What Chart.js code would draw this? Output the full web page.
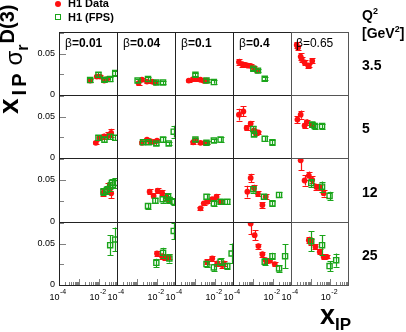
<!DOCTYPE html>
<html><head><meta charset="utf-8">
<script src="https://cdn.jsdelivr.net/npm/chart.js@4/dist/chart.umd.min.js"></script>
<style>
html,body{margin:0;padding:0;background:#fff;}
#wrap{position:relative;width:406px;height:332px;overflow:hidden;background:#fff;font-family:'Liberation Sans',Arial,Helvetica,sans-serif;color:#000;}
canvas{position:absolute;left:0;top:0;}
.t{position:absolute;white-space:nowrap;line-height:1;}
.b{font-weight:bold;}
</style></head><body>
<div id="wrap"></div>
<script>
// ---------------- data ----------------
const qsqLabels = ['3.5', '5', '12', '25'];
const betaLabels = ['0.01', '0.04', '0.1', '0.4', '0.65'];
const xTickExponents = [-4, -2];
const yTickLabels = [0, 0.05];
const seriesNames = ['H1 Data', 'H1 (FPS)'];

// h1Data[row=Q2][col=beta] -> [x_IP, value, error]
const h1Data = [
 [
  [[0.0036,0.0174,0.002],[0.0078,0.0222,0.002],[0.0114,0.0222,0.002],[0.0181,0.0174,0.002],[0.0256,0.0192,0.002]],
  [[0.0012,0.0144,0.002],[0.00177,0.0184,0.002],[0.00316,0.0162,0.002],[0.00564,0.0162,0.002],[0.00826,0.015,0.002]],
  [[0.000486,0.0174,0.002],[0.00081,0.0192,0.002],[0.00119,0.0192,0.002],[0.00188,0.0184,0.002],[0.00275,0.0172,0.002],[0.00376,0.0172,0.002]],
  [[0.000198,0.0397,0.004],[0.000293,0.0372,0.003],[0.000429,0.0364,0.002],[0.00056,0.0354,0.002],[0.000764,0.0352,0.002],[0.00112,0.0324,0.002],[0.00166,0.0294,0.002]],
  [[0.000195,0.0604,0.004],[0.000227,0.0572,0.003],[0.00031,0.0464,0.004],[0.000348,0.0433,0.003],[0.000492,0.0392,0.003],[0.000755,0.0352,0.003],[0.000809,0.0356,0.002],[0.0012,0.0412,0.003]]
 ],
 [
  [[0.00693,0.0183,0.002],[0.0105,0.0243,0.003],[0.0181,0.0262,0.003],[0.0297,0.027,0.004],[0.0406,0.0303,0.005]],
  [[0.00177,0.0183,0.002],[0.00316,0.0222,0.002],[0.00463,0.0202,0.002],[0.00678,0.0195,0.002],[0.01,0.021,0.002]],
  [[0.00081,0.019,0.002],[0.00105,0.0214,0.002],[0.00188,0.0183,0.002],[0.00309,0.0183,0.002],[0.00408,0.0183,0.002]],
  [[0.000198,0.0523,0.0072],[0.000329,0.0562,0.006],[0.000481,0.0363,0.003],[0.000764,0.0415,0.003],[0.00112,0.0334,0.002],[0.00136,0.0303,0.002],[0.00186,0.031,0.002]],
  [[0.000212,0.0463,0.004],[0.00031,0.0523,0.005],[0.000492,0.039,0.003],[0.000635,0.0433,0.003],[0.0012,0.0403,0.003]]
 ],
 [
  [[0.0167,0.0348,0.004],[0.0297,0.0403,0.006],[0.0406,0.0342,0.006]],
  [[0.00427,0.036,0.003],[0.00678,0.031,0.003],[0.0108,0.0372,0.003],[0.0179,0.0348,0.003],[0.0294,0.03,0.004],[0.0384,0.0262,0.004]],
  [[0.00188,0.0162,0.002],[0.00275,0.0222,0.002],[0.00408,0.024,0.002],[0.00726,0.027,0.002],[0.0119,0.03,0.003],[0.019,0.024,0.002]],
  [[0.000764,0.0523,0.005],[0.000521,0.036,0.007],[0.00112,0.0403,0.004],[0.00177,0.0334,0.003],[0.00295,0.0202,0.003],[0.00432,0.03,0.003]],
  [[0.00031,0.0733,0.012],[0.000492,0.0493,0.006],[0.000809,0.0549,0.005],[0.0012,0.0501,0.004],[0.00197,0.0415,0.004],[0.00288,0.0415,0.003],[0.00458,0.0342,0.004]]
 ],
 [
  [],
  [[0.01,0.0381,0.003],[0.0179,0.0348,0.003],[0.0262,0.0333,0.003],[0.0384,0.034,0.003]],
  [[0.00408,0.028,0.003],[0.00726,0.032,0.003],[0.0129,0.026,0.003],[0.0231,0.024,0.003],[0.0277,0.026,0.003]],
  [[0.000764,0.0741,0.013],[0.00121,0.0601,0.006],[0.00186,0.0469,0.003],[0.00295,0.0372,0.003],[0.00432,0.03,0.003],[0.0071,0.0292,0.002],[0.0122,0.0252,0.002]],
  [[0.000809,0.0541,0.004],[0.000984,0.052,0.004],[0.00175,0.046,0.003],[0.00288,0.04,0.003],[0.00458,0.034,0.003],[0.00678,0.034,0.002]]
 ]
];

const h1Fps = [
 [
  [[0.0036,0.018,0.002],[0.0094,0.0244,0.003],[0.0187,0.0184,0.002],[0.0362,0.0192,0.002],[0.0646,0.0264,0.003]],
  [[0.00107,0.0174,0.002],[0.00355,0.0192,0.002],[0.00927,0.015,0.002],[0.0201,0.015,0.002]],
  [[0.00105,0.0244,0.002],[0.00376,0.0174,0.002],[0.00875,0.0156,0.002]],
  [[0.00104,0.0318,0.002],[0.00177,0.0294,0.002],[0.00385,0.0196,0.002]],
  []
 ],
 [
  [[0.0094,0.0243,0.003],[0.0187,0.0222,0.003],[0.0362,0.0255,0.003],[0.0646,0.0243,0.003]],
  [[0.00199,0.019,0.002],[0.0038,0.019,0.002],[0.00927,0.0174,0.002],[0.0201,0.0222,0.003],[0.0384,0.0174,0.002],[0.0684,0.0318,0.0072]],
  [[0.00105,0.0222,0.002],[0.00376,0.0183,0.002],[0.00875,0.021,0.002],[0.019,0.0222,0.003]],
  [[0.00104,0.0351,0.003],[0.00112,0.0282,0.002],[0.00385,0.0231,0.003],[0.00938,0.019,0.003]],
  [[0.0012,0.0403,0.003],[0.0016,0.0385,0.003],[0.0038,0.0385,0.003]]
 ],
 [
  [[0.0167,0.036,0.004],[0.0247,0.038,0.005],[0.0362,0.042,0.005],[0.044,0.0463,0.005],[0.0646,0.0463,0.006]],
  [[0.00355,0.019,0.003],[0.00826,0.0252,0.003],[0.0192,0.027,0.004],[0.0358,0.03,0.004],[0.0416,0.0262,0.004],[0.0684,0.024,0.004]],
  [[0.00376,0.03,0.003],[0.00875,0.0222,0.003],[0.019,0.024,0.003],[0.0411,0.024,0.003]],
  [[0.00104,0.039,0.004],[0.00355,0.03,0.003],[0.00938,0.0222,0.003],[0.0201,0.0322,0.003]],
  [[0.00107,0.0463,0.005],[0.0038,0.042,0.006],[0.00916,0.031,0.005]]
 ],
 [
  [[0.0362,0.048,0.012],[0.0646,0.0549,0.0144]],
  [[0.00927,0.0268,0.005],[0.0201,0.0388,0.006],[0.0416,0.0321,0.005],[0.0684,0.0652,0.0096]],
  [[0.00376,0.0252,0.004],[0.00875,0.0212,0.004],[0.019,0.028,0.004],[0.0411,0.0228,0.004],[0.0676,0.038,0.012]],
  [[0.00385,0.028,0.004],[0.00938,0.0348,0.004],[0.0201,0.02,0.004],[0.0402,0.0348,0.0144]],
  [[0.00107,0.0529,0.012],[0.0038,0.048,0.012],[0.00916,0.0228,0.006],[0.0199,0.03,0.008]]
 ]
];

// ---------------- layout / style ----------------
const W = 406, H = 332;
const colEdges = [59, 117, 175, 233, 291, 348];
const rowEdges = [32, 95, 158, 222, 285];
const X_MIN = 1e-4, X_MAX = 0.0794, Y_MIN = 0, Y_MAX = 0.076;
const RED = '#ff1010', GREEN = '#1aa51a';
const FONT = "'Liberation Sans', Arial, Helvetica, sans-serif";

const wrap = document.getElementById('wrap');
function addText(html, left, top, style) {
  const d = document.createElement('div');
  d.className = 't';
  d.style.left = left + 'px';
  d.style.top = top + 'px';
  if (style) d.style.cssText += style;
  d.innerHTML = html;
  wrap.appendChild(d);
  return d;
}

const panelPlugin = {
  id: 'panel',
  beforeDatasetDraw(chart, args) {
    const ds = chart.data.datasets[args.index];
    const xs = chart.scales.x, ys = chart.scales.y, ctx = chart.ctx, a = chart.chartArea;
    ctx.save();
    ctx.beginPath();
    ctx.rect(a.left, a.top, a.right - a.left, a.bottom - a.top);
    ctx.clip();
    ctx.strokeStyle = ds.errColor;
    ctx.lineWidth = 1.2;
    ds.data.forEach(p => {
      const px = Math.round(xs.getPixelForValue(p.x)) + 0.5;
      const y1 = ys.getPixelForValue(p.y - p.e), y2 = ys.getPixelForValue(p.y + p.e);
      ctx.beginPath();
      ctx.moveTo(px, y1); ctx.lineTo(px, y2);
      ctx.moveTo(px - 3, Math.round(y1) + 0.5); ctx.lineTo(px + 3, Math.round(y1) + 0.5);
      ctx.moveTo(px - 3, Math.round(y2) + 0.5); ctx.lineTo(px + 3, Math.round(y2) + 0.5);
      ctx.stroke();
    });
    ctx.restore();
  },
  afterDraw(chart, args, opts) {
    const ctx = chart.ctx, a = chart.chartArea, xs = chart.scales.x, ys = chart.scales.y;
    const r = opts.row, c = opts.col;
    ctx.save();
    // ticks
    ctx.strokeStyle = '#808080';
    ctx.lineWidth = 1;
    if (c === 0) {
      [0.025, 0.05, 0.075].forEach(v => {
        const py = Math.round(ys.getPixelForValue(v)) + 0.5;
        ctx.beginPath(); ctx.moveTo(a.left, py); ctx.lineTo(a.left + (v === 0.05 ? 7 : 5), py); ctx.stroke();
      });
      ctx.fillStyle = '#000';
      ctx.font = '9px ' + FONT;
      ctx.textAlign = 'right';
      ctx.textBaseline = 'middle';
      yTickLabels.forEach(v => {
        ctx.fillText(v === 0 ? '0' : String(v), a.left - 4, ys.getPixelForValue(v));
      });
    }
    if (r === 3) {
      for (let e = -4; e <= -2; e++) {
        for (let m = 1; m <= 9; m++) {
          const v = m * Math.pow(10, e);
          if (v > X_MAX) break;
          const px = Math.round(xs.getPixelForValue(v)) + 0.5;
          ctx.beginPath(); ctx.moveTo(px, a.bottom); ctx.lineTo(px, a.bottom - (m === 1 ? 6 : 3)); ctx.stroke();
        }
      }
      ctx.fillStyle = '#000';
      ctx.textBaseline = 'alphabetic';
      xTickExponents.forEach(e => {
        const px = xs.getPixelForValue(Math.pow(10, e));
        ctx.font = '9px ' + FONT;
        ctx.textAlign = 'right';
        ctx.fillText('10', px + 0.5, a.bottom + 15);
        ctx.font = '7px ' + FONT;
        ctx.textAlign = 'left';
        ctx.fillText(String(e), px + 1, a.bottom + 8.5);
      });
    }
    // frame
    ctx.strokeStyle = (c === 4) ? '#555' : '#222';
    ctx.lineWidth = 1;
    ctx.strokeRect(Math.round(a.left) + 0.5, Math.round(a.top) + 0.5, Math.round(a.right - a.left), Math.round(a.bottom - a.top));
    ctx.restore();
  }
};

for (let r = 0; r < 4; r++) {
  for (let c = 0; c < 5; c++) {
    const cv = document.createElement('canvas');
    cv.width = W; cv.height = H;
    wrap.appendChild(cv);
    const L = colEdges[c], R = colEdges[c + 1], T = rowEdges[r], B = rowEdges[r + 1];
    new Chart(cv, {
      type: 'scatter',
      data: {
        datasets: [
          {
            label: seriesNames[1],
            data: h1Fps[r][c].map(p => ({ x: p[0], y: p[1], e: p[2] })),
            pointStyle: 'rect', pointRadius: 3.6, pointBorderWidth: 1.4,
            borderColor: GREEN, backgroundColor: 'rgba(0,0,0,0)', errColor: GREEN
          },
          {
            label: seriesNames[0],
            data: h1Data[r][c].map(p => ({ x: p[0], y: p[1], e: p[2] })),
            pointStyle: 'circle', pointRadius: 2.9, pointBorderWidth: 0,
            borderColor: RED, backgroundColor: RED, errColor: RED
          }
        ]
      },
      options: {
        responsive: false, animation: false, devicePixelRatio: 1, events: [],
        layout: { padding: { left: L, top: T, right: W - R, bottom: H - B } },
        scales: {
          x: { type: 'logarithmic', min: X_MIN, max: X_MAX, display: false },
          y: { type: 'linear', min: Y_MIN, max: Y_MAX, display: false }
        },
        plugins: { legend: { display: false }, tooltip: { enabled: false }, panel: { row: r, col: c } }
      },
      plugins: [panelPlugin]
    });
  }
}

// ---------------- text ----------------
// legend
addText('', 55, 1, 'width:6px;height:6px;border-radius:50%;background:' + RED + ';');
addText('', 55, 14, 'width:4px;height:4px;border:1.4px solid ' + GREEN + ';');
addText(seriesNames[0], 68, -2, 'font-size:11px;font-weight:bold;');
addText(seriesNames[1], 68, 11.5, 'font-size:11px;font-weight:bold;');

// beta labels
betaLabels.forEach((b, c) => {
  const bold = c < 4;
  addText('<span style="font-weight:normal">β</span>=' + b, colEdges[c] + 6 - (bold ? 0 : 1), 37,
    'font-size:12px;font-weight:' + (bold ? 'bold' : 'normal') + ';');
});

// Q2 labels
addText('Q<span style="font-size:9px;position:relative;top:-6px">2</span>', 362, 8, 'font-size:14px;font-weight:bold;');
addText('[GeV<span style="font-size:9px;position:relative;top:-6px">2</span>]', 362, 26, 'font-size:14px;font-weight:bold;');
const rowCenters = [65, 128, 192, 254.5];
qsqLabels.forEach((q, r) => addText(q, 362, rowCenters[r] - 7, 'font-size:14px;font-weight:bold;'));

// x axis title
addText('x<span style="font-size:17px;position:relative;top:6px">IP</span>', 320, 302, 'font-size:27px;font-weight:bold;line-height:27px;');

// y axis title (rotated)
addText('<span class="b" style="font-size:28px">x</span>' +
  '<span class="b" style="font-size:20px;position:relative;top:8px;letter-spacing:3px;margin-left:3px">IP</span>' +
  '<span style="font-size:24px;margin-left:5px;position:relative;top:4px">σ</span>' +
  '<span class="b" style="font-size:16px;position:relative;top:10px">r</span>' +
  '<span class="b" style="font-size:20px;position:relative;top:-4px;margin-left:1px">D(3)</span>',
  -8, 114, 'line-height:34px;height:34px;transform:rotate(-90deg);transform-origin:0 0;');
</script>
</body></html>
